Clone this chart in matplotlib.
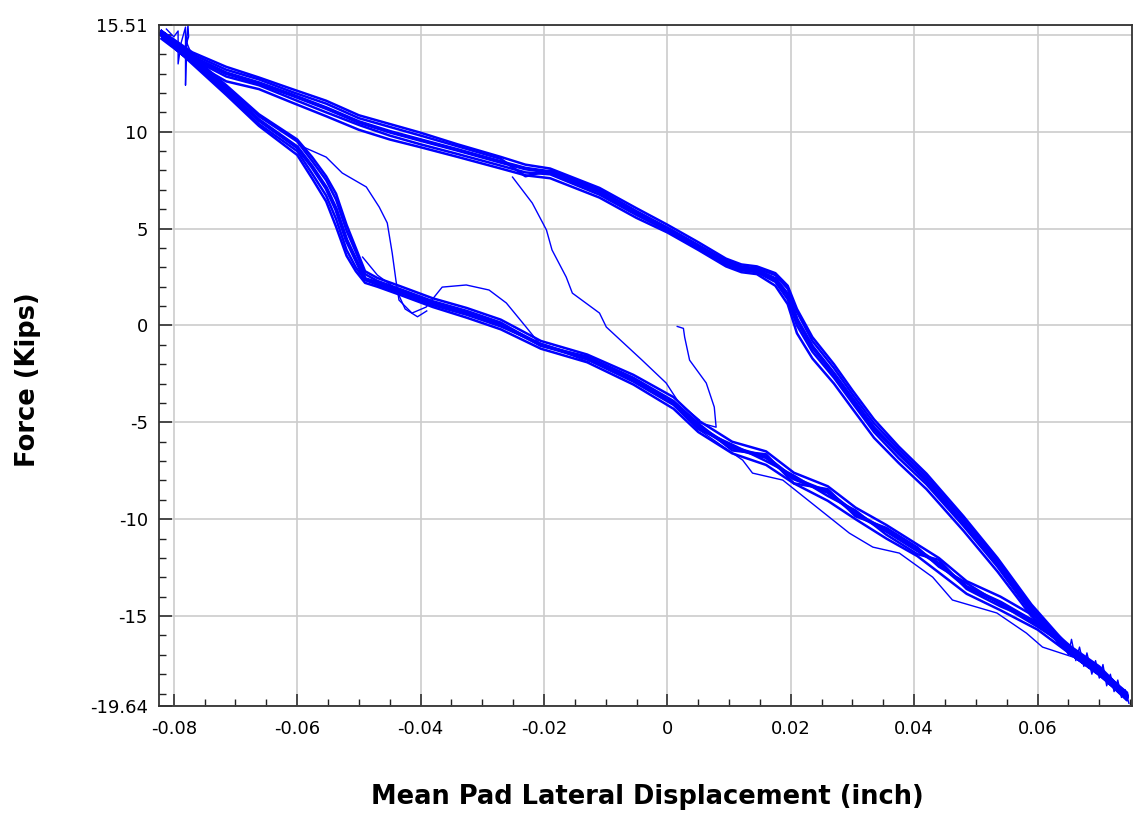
import matplotlib
matplotlib.use('Agg')
import matplotlib.pyplot as plt
from matplotlib.ticker import MultipleLocator

# Displacement grid for the loading branch (left -> right), inch
upper_x = [-0.0820, -0.0770, -0.0715, -0.0662, -0.0608, -0.0553, -0.0500, -0.0450, -0.0400,
           -0.0340, -0.0270, -0.0230, -0.0190, -0.0110, -0.0050, 0.0000, 0.0050, 0.0095,
           0.0120, 0.0145, 0.0175, 0.0195, 0.0210, 0.0235, 0.0270, 0.0300, 0.0335, 0.0375,
           0.0420, 0.0480, 0.0535, 0.0590, 0.0655, 0.0700, 0.0745]

# Displacement grid for the return branch (right -> left), inch
lower_x = [0.0745, 0.0700, 0.0655, 0.0600, 0.0540, 0.0485, 0.0440, 0.0405, 0.0355, 0.0305,
           0.0260, 0.0205, 0.0160, 0.0105, 0.0050, 0.0010, -0.0055, -0.0130, -0.0205, -0.0270,
           -0.0325, -0.0380, -0.0435, -0.0470, -0.0490, -0.0505, -0.0520, -0.0537, -0.0553,
           -0.0576, -0.0600, -0.0662, -0.0715, -0.0770, -0.0820]

# Force (Kips) per cycle, upper branch
upper_c1 = [15.0, 13.86, 13.02, 12.51, 11.89, 11.22, 10.50, 10.0, 9.57, 9.06, 8.44, 8.1, 7.92,
            6.9, 5.8, 5.0, 4.1, 3.25, 2.95, 2.85, 2.4, 1.6, 0.3, -1.1, -2.5, -3.8, -5.3, -6.6,
            -8.0, -10.2, -12.3, -14.7, -16.9, -17.9, -19.1]
upper_c2 = [14.8, 13.6, 12.6, 12.2, 11.5, 10.8, 10.1, 9.6, 9.2, 8.7, 8.1, 7.75, 7.6, 6.6,
            5.55, 4.8, 3.9, 3.05, 2.75, 2.65, 2.05, 1.1, -0.4, -1.7, -3.0, -4.3, -5.8, -7.1,
            -8.45, -10.6, -12.7, -15.0, -17.0, -18.05, -19.25]
upper_c3 = [15.2, 14.1, 13.35, 12.8, 12.2, 11.6, 10.85, 10.4, 9.95, 9.35, 8.7, 8.3, 8.1, 7.1,
            6.05, 5.2, 4.3, 3.45, 3.15, 3.05, 2.7, 2.05, 0.85, -0.6, -2.0, -3.35, -4.85, -6.25,
            -7.65, -9.85, -12.0, -14.4, -16.75, -17.75, -18.95]
upper_c4 = [15.0, 13.75, 12.85, 12.4, 11.7, 11.0, 10.35, 9.8, 9.35, 8.85, 8.25, 7.9, 7.8, 6.75,
            5.7, 4.9, 4.0, 3.15, 2.85, 2.75, 2.25, 1.35, 0.0, -1.35, -2.7, -4.0, -5.5, -6.85,
            -8.2, -10.35, -12.45, -14.85, -16.95, -17.95, -19.15]
upper_c5 = [15.1, 14.0, 13.2, 12.7, 12.05, 11.45, 10.7, 10.25, 9.8, 9.25, 8.6, 7.7, 8.0, 7.0,
            5.9, 5.05, 4.15, 3.35, 3.05, 2.95, 2.6, 1.9, 0.7, -0.8, -2.2, -3.55, -5.05, -6.4,
            -7.8, -10.0, -12.1, -14.55, -16.8, -17.8, -19.0]

# Force (Kips) per cycle, lower branch
lower_c1 = [-19.2, -17.8, -16.8, -15.4, -14.3, -13.5, -12.3, -11.6, -10.6, -9.7, -8.6, -7.9,
            -6.8, -6.3, -5.2, -4.0, -2.8, -1.7, -1.0, 0.05, 0.64, 1.16, 1.8, 2.2, 2.4, 3.4, 4.4,
            6.0, 7.1, 8.2, 9.2, 10.6, 12.15, 13.7, 15.1]
lower_c2 = [-19.35, -18.0, -17.0, -15.7, -14.7, -13.85, -12.75, -11.9, -11.0, -10.0, -9.05,
            -8.15, -7.2, -6.6, -5.5, -4.3, -3.05, -1.9, -1.2, -0.2, 0.4, 0.95, 1.6, 2.0, 2.2,
            2.8, 3.6, 5.1, 6.4, 7.6, 8.8, 10.3, 11.9, 13.5, 14.95]
lower_c3 = [-19.05, -17.6, -16.6, -15.1, -14.0, -13.2, -12.0, -11.3, -10.3, -9.4, -8.3, -7.6,
            -6.5, -6.0, -4.9, -3.7, -2.55, -1.5, -0.8, 0.3, 0.9, 1.4, 2.05, 2.45, 2.8, 4.0, 5.2,
            6.8, 7.7, 8.7, 9.6, 10.9, 12.4, 13.9, 15.2]
lower_c4 = [-19.2, -17.9, -16.85, -15.3, -14.5, -13.6, -12.1, -11.8, -10.8, -9.55, -8.8, -7.75,
            -7.0, -6.15, -5.35, -4.1, -2.9, -1.75, -0.95, -0.05, 0.55, 1.05, 1.7, 2.1, 2.35,
            3.0, 3.9, 5.5, 6.7, 7.85, 9.0, 10.4, 12.0, 13.6, 15.0]
lower_c5 = [-19.25, -17.7, -16.7, -15.55, -14.4, -13.3, -12.45, -11.45, -10.45, -9.85, -8.45,
            -8.15, -6.65, -6.45, -5.05, -3.9, -2.7, -1.6, -1.05, 0.15, 0.75, 1.25, 1.9, 2.3,
            2.65, 3.8, 4.9, 6.5, 7.5, 8.5, 9.5, 10.8, 12.3, 13.8, 15.1]

upper_cycles = [upper_c1, upper_c2, upper_c3, upper_c4, upper_c5]
lower_cycles = [lower_c1, lower_c2, lower_c3, lower_c4, lower_c5]

# odd traces that leave the main bands
first_x = [-0.0597, -0.0553, -0.0527, -0.0488, -0.0467, -0.0454, -0.0446, -0.0440, -0.0435,
           -0.0414, -0.0391, -0.0365, -0.0326, -0.0289, -0.0261, -0.0229, -0.0208, -0.0190,
           -0.0127]
first_y = [9.31, 8.69, 7.87, 7.15, 6.11, 5.29, 3.74, 2.34, 1.31, 0.64, 0.95, 1.98, 2.09, 1.83,
           1.16, -0.08, -0.91, -1.1, -1.9]

second_x = [-0.0494, -0.0470, -0.0440, -0.0425, -0.0405, -0.0390]
second_y = [3.53, 2.6, 1.9, 0.85, 0.45, 0.75]

diag_x = [-0.0251, -0.0219, -0.0196, -0.0187, -0.0164, -0.0154, -0.0110, -0.0099, -0.0041,
          -0.0002, 0.0019, 0.0052]
diag_y = [7.66, 6.32, 4.93, 3.90, 2.50, 1.67, 0.64, -0.08, -1.79, -2.97, -4.0, -4.88]

curl_x = [0.0016, 0.0026, 0.0028, 0.0036, 0.0063, 0.0076, 0.0079, 0.0050, 0.0030]
curl_y = [-0.05, -0.15, -0.60, -1.79, -2.97, -4.21, -5.25, -5.0, -4.6]

outer_x = [0.0052, 0.0122, 0.0138, 0.0187, 0.0295, 0.0333, 0.0376, 0.0430, 0.0462, 0.0534,
           0.0582, 0.0608, 0.0657]
outer_y = [-5.40, -6.95, -7.62, -7.98, -10.72, -11.44, -11.75, -12.99, -14.17, -14.84,
           -15.88, -16.60, -17.11]

spike_x = [-0.0812, -0.0800, -0.0793, -0.0793, -0.0788, -0.0781, -0.0781, -0.0779, -0.0777,
           -0.0776, -0.0779, -0.0770]
spike_y = [15.3, 14.9, 15.2, 13.5, 14.6, 15.4, 12.4, 14.8, 15.5, 14.9, 14.6, 13.9]

noise_x = [0.0640, 0.0650, 0.0655, 0.0662, 0.0668, 0.0675, 0.0680, 0.0688, 0.0694, 0.0700,
           0.0706, 0.0712, 0.0718, 0.0724, 0.0730, 0.0736, 0.0742, 0.0748]
noise_y = [-16.4, -17.0, -16.2, -17.3, -16.6, -17.6, -16.9, -18.0, -17.3, -18.2, -17.5,
           -18.6, -18.0, -18.9, -18.3, -19.2, -18.8, -19.5]

x_ticks = [-0.08, -0.06, -0.04, -0.02, 0, 0.02, 0.04, 0.06]
x_labels = ['-0.08', '-0.06', '-0.04', '-0.02', '0', '0.02', '0.04', '0.06']
y_ticks = [-19.64, -15, -10, -5, 0, 5, 10, 15, 15.51]
y_labels = ['-19.64', '-15', '-10', '-5', '0', '5', '10', '', '15.51']

BLUE = '#0000ff'

fig = plt.figure(figsize=(11.38, 8.19), dpi=100)
ax = fig.add_axes([0.1397, 0.138, 0.855, 0.8315])

# main hysteresis cycles
for up, lo in zip(upper_cycles, lower_cycles):
    ax.plot(upper_x + lower_x, up + lo, color=BLUE, lw=1.8, solid_joinstyle='round')
ax.plot(upper_x + lower_x, upper_c1 + lower_c1, color=BLUE, lw=2.8, solid_joinstyle='round')

for xs, ys in [(first_x, first_y), (second_x, second_y), (diag_x, diag_y),
               (curl_x, curl_y), (outer_x, outer_y), (spike_x, spike_y), (noise_x, noise_y)]:
    ax.plot(xs, ys, color=BLUE, lw=1.0, solid_joinstyle='round')

ax.set_xlim(-0.0824, 0.0753)
ax.set_ylim(-19.64, 15.51)

ax.set_xticks(x_ticks)
ax.set_xticklabels(x_labels)
ax.set_yticks(y_ticks)
ax.set_yticklabels(y_labels)
ax.xaxis.set_minor_locator(MultipleLocator(0.005))
ax.yaxis.set_minor_locator(MultipleLocator(1))

ax.tick_params(which='major', direction='in', length=9, width=1.1, color='#222222',
               labelsize=13, top=False, right=False)
ax.tick_params(which='minor', direction='in', length=5, width=1.0, color='#222222',
               top=False, right=False)
ax.tick_params(axis='y', pad=8)
ax.tick_params(axis='x', pad=10)

ax.grid(True, which='major', color='#cccccc', lw=1.2)
ax.set_axisbelow(True)
for s in ax.spines.values():
    s.set_color('#333333')
    s.set_linewidth(1.3)

fig.text(0.569, 0.027, 'Mean Pad Lateral Displacement (inch)', ha='center', va='center',
         fontsize=18.5, fontweight='bold')
fig.text(0.025, 0.536, 'Force (Kips)', ha='center', va='center', rotation=90,
         fontsize=18.5, fontweight='bold')

fig.savefig('out.png', dpi=100)
